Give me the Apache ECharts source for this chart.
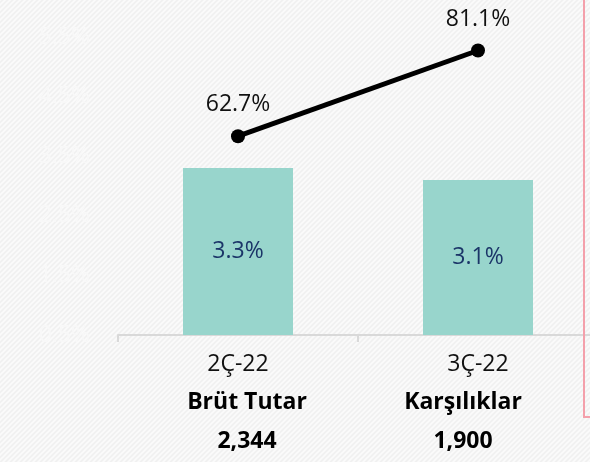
<!DOCTYPE html>
<html>
<head>
<meta charset="utf-8">
<script src="https://cdn.jsdelivr.net/npm/echarts@6/dist/echarts.min.js"></script>
<style>
html,body{margin:0;padding:0;background:#f3f3f3;}
#c{width:590px;height:462px;}
</style>
</head>
<body>
<div id="c"></div>
<script>
const categories = ['2Ç-22', '3Ç-22'];
const subLabels = ['Brüt Tutar', 'Karşılıklar'];
const subValues = ['2,344', '1,900'];
const barValues = [3.3, 3.1];
const lineValues = [62.7, 81.1];
const leftTicks = [0.5, 1.5, 2.5, 3.5, 4.5, 5.5];

// diagonal stripe pattern
const tile = document.createElement('canvas');
tile.width = 5; tile.height = 5;
const g = tile.getContext('2d');
g.fillStyle = '#f1f1f1';
g.fillRect(0, 0, 5, 5);
g.strokeStyle = '#fbfbfb';
g.lineWidth = 1.6;
g.beginPath();
g.moveTo(-1, 6); g.lineTo(6, -1);
g.moveTo(-1, 1); g.lineTo(1, -1);
g.moveTo(4, 6); g.lineTo(6, 4);
g.stroke();

const chart = echarts.init(document.getElementById('c'), null, {renderer: 'canvas'});
const font = '"Open Sans", sans-serif';
chart.setOption({
  animation: false,
  backgroundColor: 'transparent',
  graphic: [
    {type: 'rect', z: -10, silent: true, shape: {x: 0, y: 0, width: 590, height: 462},
     style: {fill: {image: tile, repeat: 'repeat'}}},
    {type: 'rect', z: 10, silent: true, shape: {x: 584, y: -5, width: 20, height: 422},
     style: {fill: 'none', stroke: '#f4a0ab', lineWidth: 2}}
  ],
  grid: {left: 118, width: 480, top: 37, bottom: 127, containLabel: false, outerBoundsMode: 'none'},
  xAxis: {
    type: 'category',
    data: categories,
    boundaryGap: true,
    axisLine: {lineStyle: {color: '#d9d9d9', width: 2}},
    axisTick: {show: true, length: 7, lineStyle: {color: '#d9d9d9', width: 2}},
    axisLabel: {
      margin: 10,
      interval: 0,
      formatter: function (v, i) {
        return '{c|' + v + '}\n{b' + i + '|' + subLabels[i] + '}\n{b' + i + '|' + subValues[i] + '}';
      },
      rich: {
        c: {fontFamily: font, fontSize: 23, color: '#111', lineHeight: 38},
        b0: {fontFamily: font, fontSize: 23, fontWeight: 'bold', color: '#000', lineHeight: 39, padding: [0, 0, 0, 18]},
        b1: {fontFamily: font, fontSize: 23, fontWeight: 'bold', color: '#000', lineHeight: 39, padding: [0, 30, 0, 0]}
      }
    }
  },
  yAxis: [
    {
      type: 'value', min: 0.5, max: 5.5, interval: 1,
      axisLine: {show: false}, axisTick: {show: false}, splitLine: {show: false},
      axisLabel: {margin: 28, fontFamily: font, fontSize: 23, color: '#f8f8f8',
        formatter: function (v) { return v.toFixed(1) + '%'; }}
    },
    {
      type: 'value', min: 20, max: 84, show: false,
      axisLine: {show: false}, splitLine: {show: false}
    }
  ],
  series: [
    {
      type: 'bar', data: barValues, barWidth: 110, yAxisIndex: 0,
      itemStyle: {color: '#98d5cc'},
      label: {show: true, position: 'inside', fontFamily: font, fontSize: 23, color: '#1b3568',
        formatter: function (p) { return p.value.toFixed(1) + '%'; }}
    },
    {
      type: 'line', data: lineValues, yAxisIndex: 1,
      symbol: 'circle', symbolSize: 14,
      lineStyle: {color: '#000', width: 5},
      itemStyle: {color: '#000'},
      label: {show: true, position: 'top', distance: 13, fontFamily: font, fontSize: 23, color: '#111',
        formatter: function (p) { return p.value.toFixed(1) + '%'; }},
      z: 5
    }
  ]
});
</script>
</body>
</html>
